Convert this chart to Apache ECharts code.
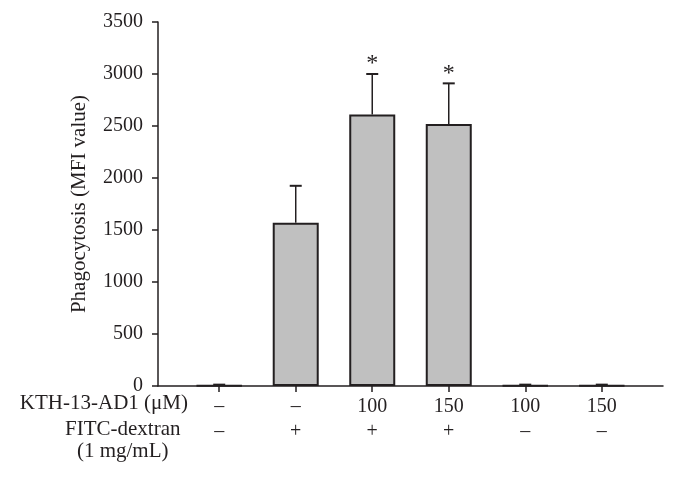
<!DOCTYPE html>
<html>
<head>
<meta charset="utf-8">
<script src="https://cdn.jsdelivr.net/npm/echarts@6/dist/echarts.min.js"></script>
<style>
  html, body { margin: 0; padding: 0; background: #fff; }
  #chart { width: 680px; height: 479px; }
</style>
</head>
<body>
<div id="chart"></div>
<script>
// Valores
const kthDose = ['–', '–', '100', '150', '100', '150'];
const fitcDextran = ['–', '+', '+', '+', '–', '–'];
const mfiMean = [5, 1570, 2610, 2520, 5, 5];
const mfiErr = [8, 355, 390, 390, 8, 8];
const signif = ['', '', '*', '*', '', ''];
const yTicks = [0, 500, 1000, 1500, 2000, 2500, 3000, 3500];

const ink = '#231f20';
const font = 'Liberation Serif';

const chart = echarts.init(document.getElementById('chart'), null, { renderer: 'canvas' });
const idx = kthDose.map((_, i) => i);

chart.setOption({
  animation: false,
  textStyle: { fontFamily: font, color: ink },
  grid: { left: 158, right: 17, top: 22, bottom: 93 },
  xAxis: {
    type: 'value',
    min: -0.8,
    max: 5.8,
    splitLine: { show: false },
    axisLine: { onZero: false, lineStyle: { color: ink, width: 1.5 } },
    axisTick: { customValues: idx, length: 6, lineStyle: { color: ink, width: 1.5 } },
    axisLabel: {
      customValues: idx,
      formatter: (v) => kthDose[v] + '\n' + fitcDextran[v],
      fontFamily: font,
      fontSize: 20,
      lineHeight: 25,
      color: ink,
      margin: 8
    }
  },
  yAxis: {
    type: 'value',
    min: yTicks[0],
    max: yTicks[yTicks.length - 1],
    interval: 500,
    name: 'Phagocytosis (MFI value)',
    nameLocation: 'middle',
    nameGap: 68,
    nameTextStyle: { fontFamily: font, fontSize: 21, color: ink },
    splitLine: { show: false },
    axisLine: { show: true, onZero: false, lineStyle: { color: ink, width: 1.5 } },
    axisTick: { show: true, length: 6, lineStyle: { color: ink, width: 1.5 } },
    axisLabel: { fontFamily: font, fontSize: 20, color: ink, margin: 15, formatter: (v) => String(v) }
  },
  graphic: [
    {
      type: 'text', right: 680 - 188, top: 393,
      style: { text: 'KTH-13-AD1 (μM)', font: '21px "Liberation Serif"', fill: ink, textAlign: 'right' }
    },
    {
      type: 'text', left: 65, top: 418,
      style: { text: 'FITC-dextran\n(1 mg/mL)', font: '21px "Liberation Serif"', fill: ink, textAlign: 'center', lineHeight: 22 }
    }
  ],
  series: [
    {
      type: 'bar',
      barWidth: 46,
      data: mfiMean.map((v, i) => [i, v]),
      itemStyle: { color: '#c0c0c0', borderColor: ink, borderWidth: 2 },
      z: 2
    },
    {
      type: 'custom',
      data: mfiMean.map((v, i) => [i, v, mfiErr[i]]),
      z: 3,
      renderItem: (params, api) => {
        const i = api.value(0);
        const base = api.coord([i, api.value(1)]);
        const top = api.coord([i, api.value(1) + api.value(2)]);
        const children = [
          { type: 'line', shape: { x1: base[0], y1: base[1], x2: top[0], y2: top[1] }, style: { stroke: ink, lineWidth: 1.5 } },
          { type: 'line', shape: { x1: top[0] - 6, y1: top[1], x2: top[0] + 6, y2: top[1] }, style: { stroke: ink, lineWidth: 2 } }
        ];
        if (signif[i]) {
          children.push({
            type: 'text',
            style: { text: signif[i], x: top[0], y: top[1] + 2, textAlign: 'center', textVerticalAlign: 'bottom', font: '24px "Liberation Serif"', fill: ink }
          });
        }
        return { type: 'group', children };
      }
    }
  ]
});
</script>
</body>
</html>
